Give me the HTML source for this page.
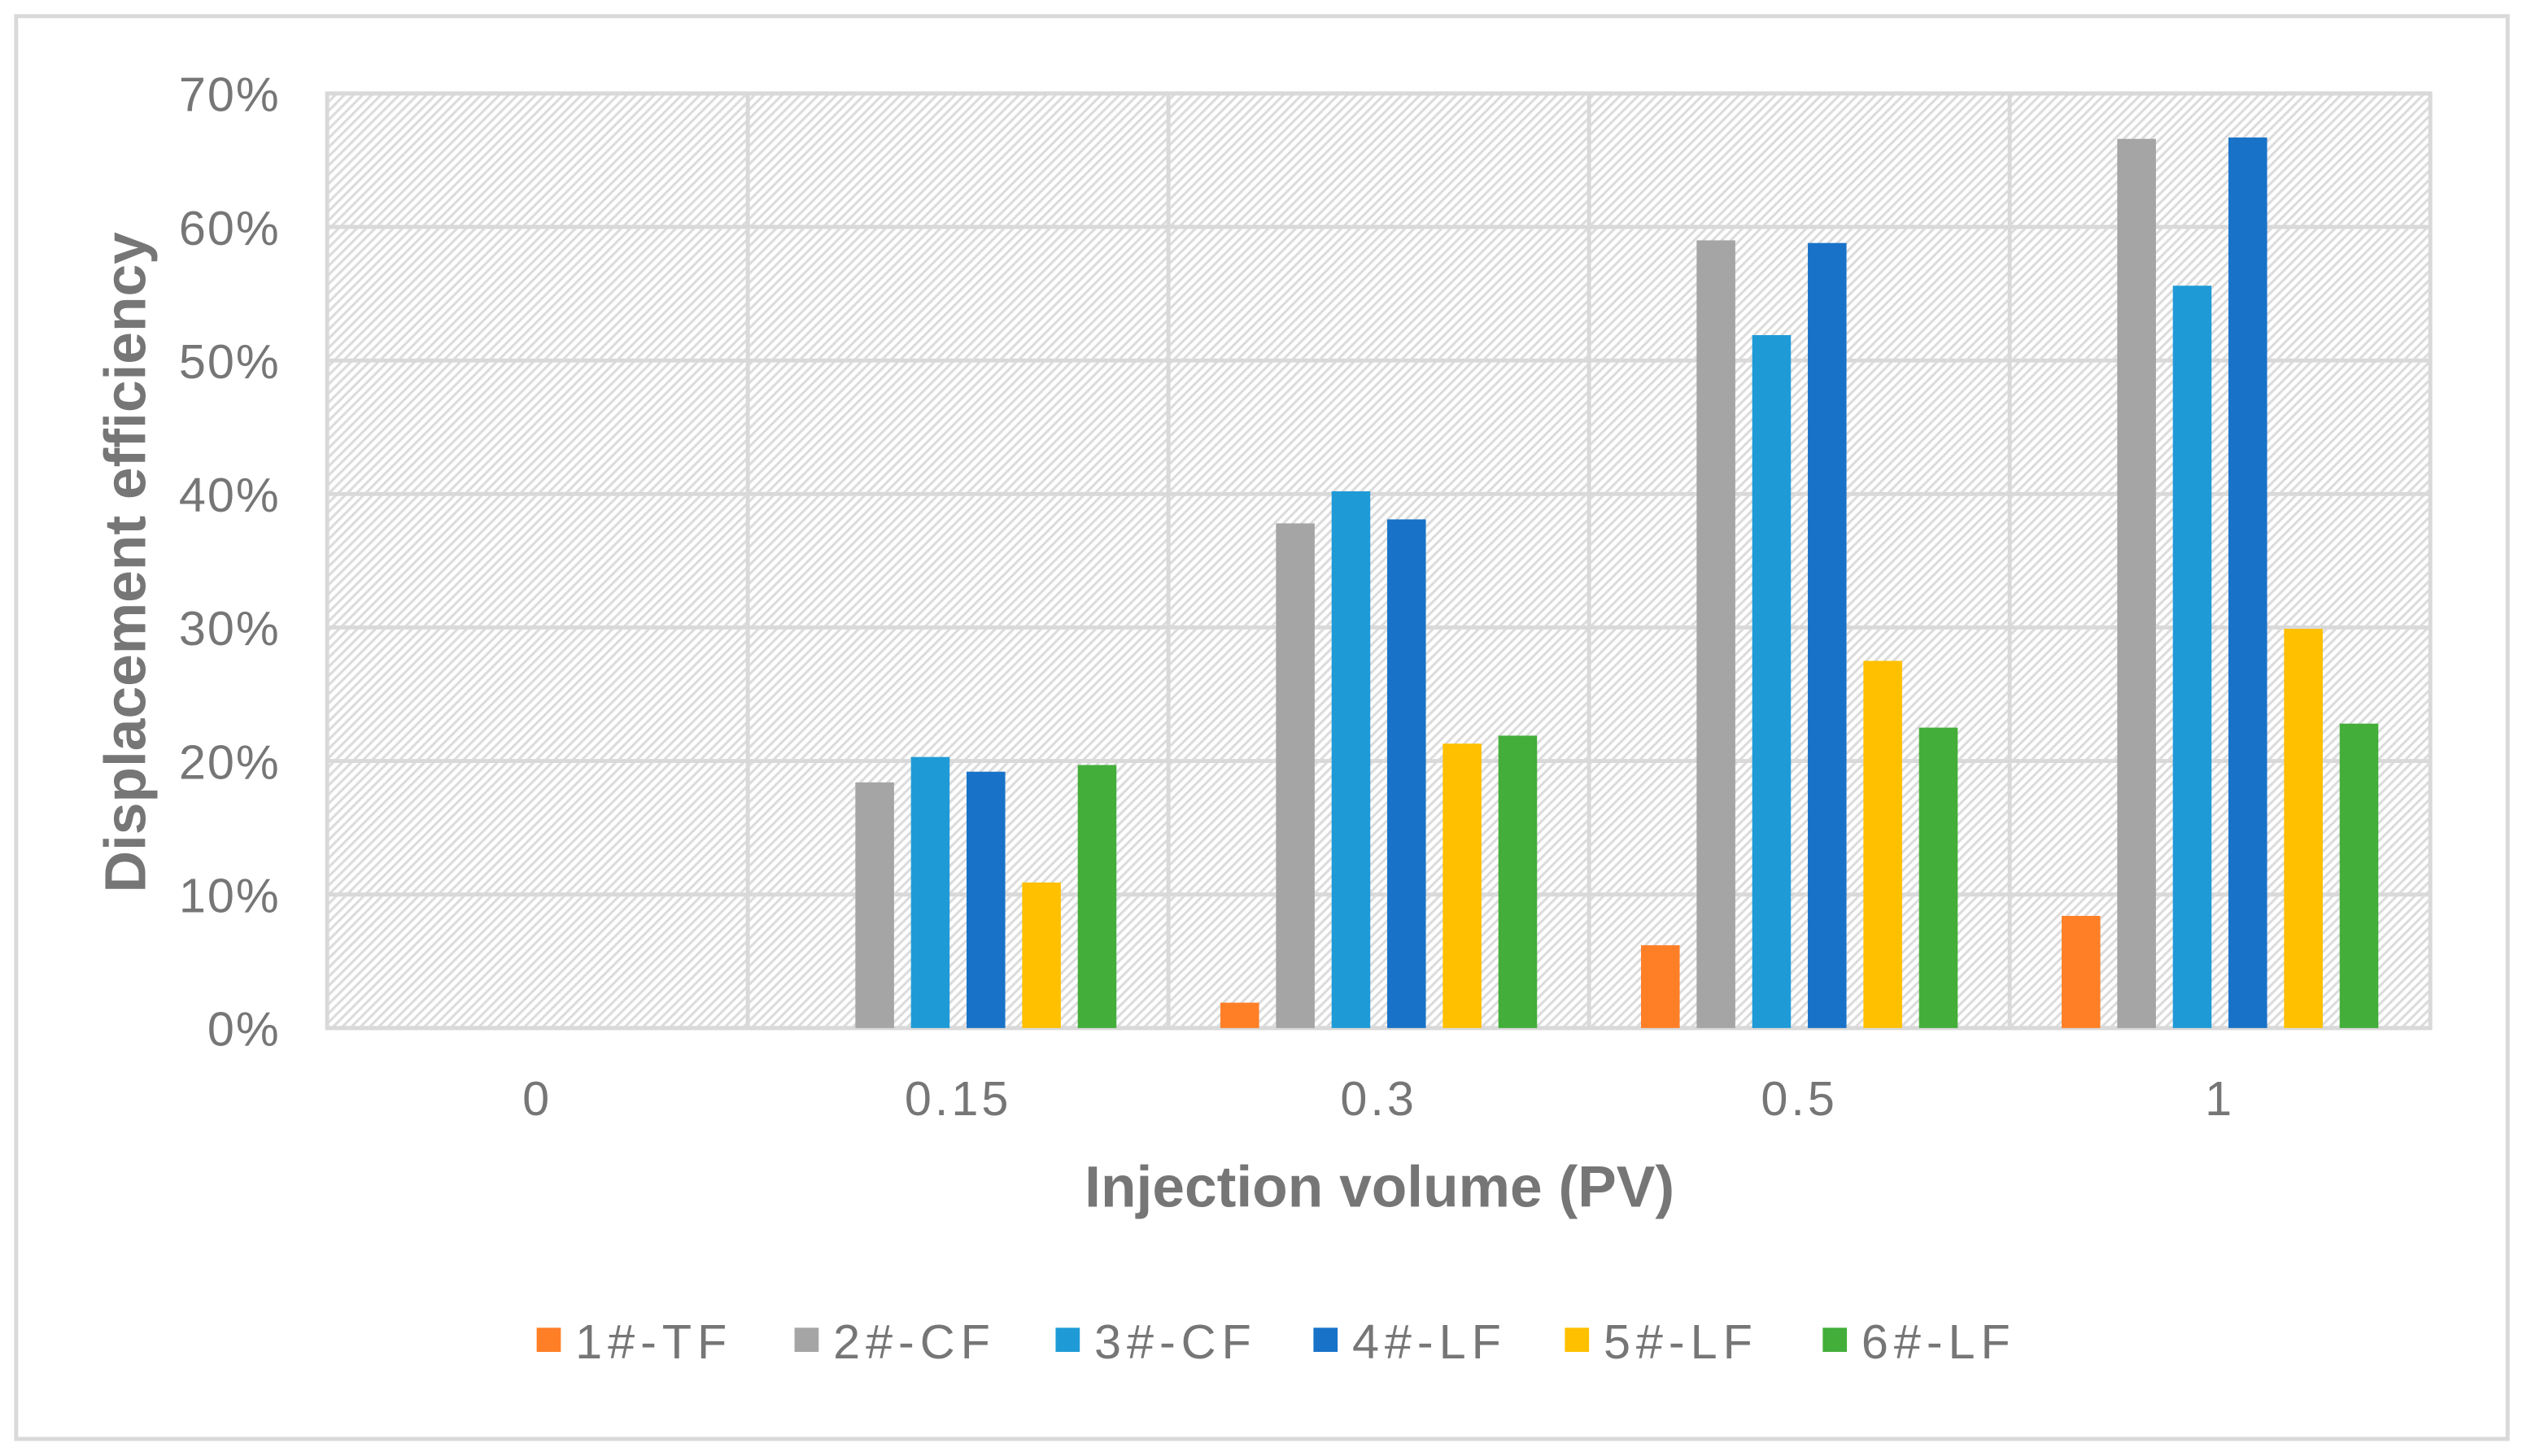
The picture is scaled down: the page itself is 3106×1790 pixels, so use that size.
<!DOCTYPE html>
<html><head><meta charset="utf-8"><style>
html,body{margin:0;padding:0;background:#fff;}
svg{display:block;}
text{font-family:"Liberation Sans",sans-serif;fill:#767676;}
</style></head><body>
<svg id="chart" width="3106" height="1790" viewBox="0 0 1568 903.6" preserveAspectRatio="none" xmlns="http://www.w3.org/2000/svg">
<defs>
<pattern id="hatch" width="4" height="4" patternUnits="userSpaceOnUse" patternTransform="rotate(45)">
<rect width="4" height="4" fill="#fff"/>
<rect width="1.6" height="4" fill="#dcdcdc"/>
</pattern>
</defs>
<rect x="10" y="10" width="1546" height="883" fill="#fff" stroke="#d9d9d9" stroke-width="2.5"/>
<rect x="203" y="58" width="1305" height="580" fill="url(#hatch)" stroke="#d9d9d9" stroke-width="2.5"/>
<g id="grid"></g>
<g id="bars"></g>
<g id="axes"></g>
<text x="856" y="749" text-anchor="middle" font-size="36" font-weight="bold">Injection volume (PV)</text>
<text transform="translate(90,349) rotate(-90)" text-anchor="middle" font-size="36" font-weight="bold">Displacement efficiency</text>
<g id="legend"></g>
</svg>
<script>
const categories = ["0","0.15","0.3","0.5","1"];
const seriesNames = ["1#-TF","2#-CF","3#-CF","4#-LF","5#-LF","6#-LF"];
const seriesColors = ["#ff7f27","#a5a5a5","#1e9bd7","#1873c8","#ffc000","#43ae3a"];
const s1 = [0, 0, 1.9, 6.2, 8.4];
const s2 = [0, 18.4, 37.8, 59.0, 66.6];
const s3 = [0, 20.3, 40.2, 51.9, 55.6];
const s4 = [0, 19.2, 38.1, 58.8, 66.7];
const s5 = [0, 10.9, 21.3, 27.5, 29.9];
const s6 = [0, 19.7, 21.9, 22.5, 22.8];
const yTicks = [0,10,20,30,40,50,60,70];
const series = [s1,s2,s3,s4,s5,s6];

const NS="http://www.w3.org/2000/svg";
const X0=203,X1=1508,Y0=638,Y1=58,YMAX=70;
const catW=(X1-X0)/categories.length;
const y=v=>Y0-(v/YMAX)*(Y0-Y1);
const catCenter=i=>X0+catW*(i+0.5);
const pitch=34.5,barW=24;
function mk(tag,attrs,parent){const e=document.createElementNS(NS,tag);for(const k in attrs)e.setAttribute(k,attrs[k]);parent.appendChild(e);return e;}
const grid=document.getElementById('grid'),bars=document.getElementById('bars'),axes=document.getElementById('axes'),legend=document.getElementById('legend');
yTicks.forEach(t=>{
  const l=mk('line',{x1:X0,x2:X1,y1:y(t),y2:y(t),stroke:'#d9d9d9','stroke-width':2.5},grid);
  
  
  const tx=mk('text',{x:174,y:y(t)+11,'text-anchor':'end','font-size':30,'letter-spacing':1},axes);
  tx.textContent=t+'%';
  
  
});
for(let i=1;i<categories.length;i++){
  const l=mk('line',{x1:X0+catW*i,x2:X0+catW*i,y1:Y1,y2:Y0,stroke:'#d9d9d9','stroke-width':2.5},grid);
  
  
}
categories.forEach((c,i)=>{
  const tx=mk('text',{x:catCenter(i),y:692,'text-anchor':'middle','font-size':30,'letter-spacing':2},axes);
  tx.textContent=c;
  
  
  series.forEach((s,j)=>{
    const v=s[i];
    if(v<=0)return;
    const cx=catCenter(i)+(j-2.5)*pitch;
    const r=mk('rect',{x:cx-barW/2,y:y(v),width:barW,height:Y0-y(v),fill:seriesColors[j]},bars);
    
    
  });
});
const lx=[333,493,655,815,971,1131];
seriesNames.forEach((n,j)=>{
  const g=mk('g',{},legend);
  
  
  mk('rect',{x:lx[j],y:824,width:15,height:15,fill:seriesColors[j]},g);
  const tx=mk('text',{x:lx[j]+24,y:843,'font-size':30,'letter-spacing':3.5},g);
  tx.textContent=n;
});
</script>
</body></html>
